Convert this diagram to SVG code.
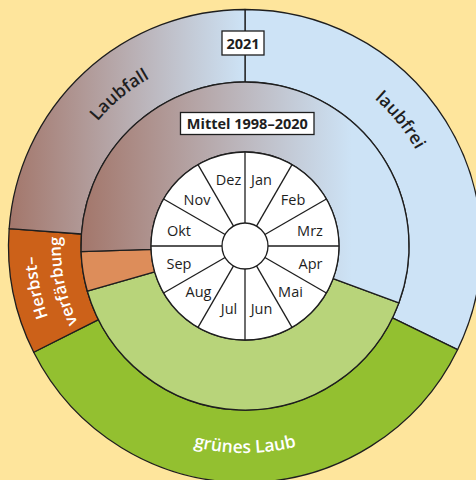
<svg xmlns="http://www.w3.org/2000/svg" width="476" height="480" viewBox="0 0 476 480">
<defs>
<linearGradient id="gOuter" gradientUnits="userSpaceOnUse" x1="8" y1="0" x2="245" y2="0">
<stop offset="0" stop-color="#a3766a"/>
<stop offset="1" stop-color="#cde3f6"/>
</linearGradient>
<linearGradient id="gMid" gradientUnits="userSpaceOnUse" x1="80" y1="0" x2="352" y2="0">
<stop offset="0" stop-color="#a3766a"/>
<stop offset="1" stop-color="#cde3f6"/>
</linearGradient>
<path id="pLaubfall" d="M 63.97 179.04 A 193 193 0 0 1 212.48 55.76"/>
<path id="pLaubfrei" d="M 315.24 63.02 A 196 196 0 0 1 438.59 215.34"/>
<path id="pGruen" d="M 38 246 A 207 207 0 0 0 452 246"/>
<path id="pHerbst1" d="M 88.54 385.10 A 209 209 0 0 1 47.39 177.96"/>
<path id="pHerbst2" d="M 105.90 366.35 A 184.5 184.5 0 0 1 70.55 185.93"/>
<style>
.seg{stroke:#1e1e1e;stroke-width:1.3;stroke-linejoin:round}
.ln{stroke:#1e1e1e;stroke-width:1.3;fill:none}
.mon{font-family:"Open Sans","Noto Sans",sans-serif;font-size:14.5px;fill:#1e1e1e;text-anchor:middle}
.lbl{font-family:"Open Sans","Noto Sans",sans-serif;font-size:17.5px;font-weight:600;text-anchor:middle}
.hb{font-size:16.5px}
.dark{fill:#1e1e1e}
.white{fill:#ffffff}
.box{fill:#ffffff;stroke:#1e1e1e;stroke-width:1.3}
.boxt{font-family:"Open Sans","Noto Sans",sans-serif;font-weight:700;font-size:14.5px;fill:#1e1e1e;text-anchor:middle}
</style>
</defs>
<rect x="0" y="0" width="476" height="480" fill="#fee59c"/>

<g id="outer-ring">
<path id="seg-laubfrei" class="seg" fill="#cde3f6" d="M 245 9.5 A 236.5 236.5 0 0 1 457.56 349.67 L 392.40 317.89 A 164 164 0 0 0 245 82 Z"/>
<path id="seg-gruen" class="seg" fill="#93c030" d="M 457.56 349.67 A 236.5 236.5 0 0 1 33.72 352.26 L 98.49 319.69 A 164 164 0 0 0 392.40 317.89 Z"/>
<path id="seg-herbst" class="seg" fill="#cc6119" d="M 33.72 352.26 A 236.5 236.5 0 0 1 9.14 228.68 L 81.44 233.99 A 164 164 0 0 0 98.49 319.69 Z"/>
<path id="seg-laubfall" class="seg" fill="url(#gOuter)" d="M 9.14 228.68 A 236.5 236.5 0 0 1 245 9.5 L 245 82 A 164 164 0 0 0 81.44 233.99 Z"/>
</g>

<g id="middle-ring">
<path id="mseg-gruen" class="seg" fill="#b8d47a" d="M 398.83 302.90 A 164 164 0 0 1 87.35 291.20 L 154.64 271.91 A 94 94 0 0 0 333.17 278.61 Z"/>
<path id="mseg-herbst" class="seg" fill="#dd8d5a" d="M 87.35 291.20 A 164 164 0 0 1 81.10 251.72 L 151.06 249.28 A 94 94 0 0 0 154.64 271.91 Z"/>
<path id="mseg-laub" class="seg" fill="url(#gMid)" d="M 81.10 251.72 A 164 164 0 1 1 398.83 302.90 L 333.17 278.61 A 94 94 0 1 0 151.06 249.28 Z"/>
</g>

<g id="month-wheel">
<circle cx="245" cy="246" r="94" fill="#ffffff" class="seg"/>
<g id="connectors">
<line class="ln" x1="245" y1="152" x2="245" y2="340"/>
<line class="ln" x1="292" y1="164.59" x2="198" y2="327.41"/>
<line class="ln" x1="326.41" y1="199" x2="163.59" y2="293"/>
<line class="ln" x1="339" y1="246" x2="151" y2="246"/>
<line class="ln" x1="326.41" y1="293" x2="163.59" y2="199"/>
<line class="ln" x1="292" y1="327.41" x2="198" y2="164.59"/>
</g>
<circle cx="245" cy="246" r="23" fill="#ffffff" class="seg"/>
<text class="mon" x="261.5" y="184.5">Jan</text>
<text class="mon" x="293" y="204.5">Feb</text>
<text class="mon" x="310" y="235.5">Mrz</text>
<text class="mon" x="310.5" y="268.5">Apr</text>
<text class="mon" x="290.5" y="297">Mai</text>
<text class="mon" x="261.5" y="313.5">Jun</text>
<text class="mon" x="229" y="313.5">Jul</text>
<text class="mon" x="198.5" y="297">Aug</text>
<text class="mon" x="179" y="268.5">Sep</text>
<text class="mon" x="179" y="235.5">Okt</text>
<text class="mon" x="197" y="204.5">Nov</text>
<text class="mon" x="228.5" y="184.5">Dez</text>
</g>

<g id="box-2021">
<rect class="box" x="222" y="31" width="42" height="24"/>
<text class="boxt" x="243" y="48.5">2021</text>
</g>
<g id="box-mittel">
<rect class="box" x="180.5" y="112.5" width="133.5" height="22"/>
<text class="boxt" x="247.3" y="128.8">Mittel 1998–2020</text>
</g>

<g id="ring-labels">
<text class="lbl dark"><textPath href="#pLaubfall" startOffset="50%">Laubfall</textPath></text>
<text class="lbl dark"><textPath href="#pLaubfrei" startOffset="50%">laubfrei</textPath></text>
<text class="lbl white"><textPath href="#pGruen" startOffset="50%">grünes Laub</textPath></text>
<text class="lbl white hb"><textPath href="#pHerbst1" startOffset="50%">Herbst–</textPath></text>
<text class="lbl white hb"><textPath href="#pHerbst2" startOffset="50%">verfärbung</textPath></text>
</g>
</svg>
